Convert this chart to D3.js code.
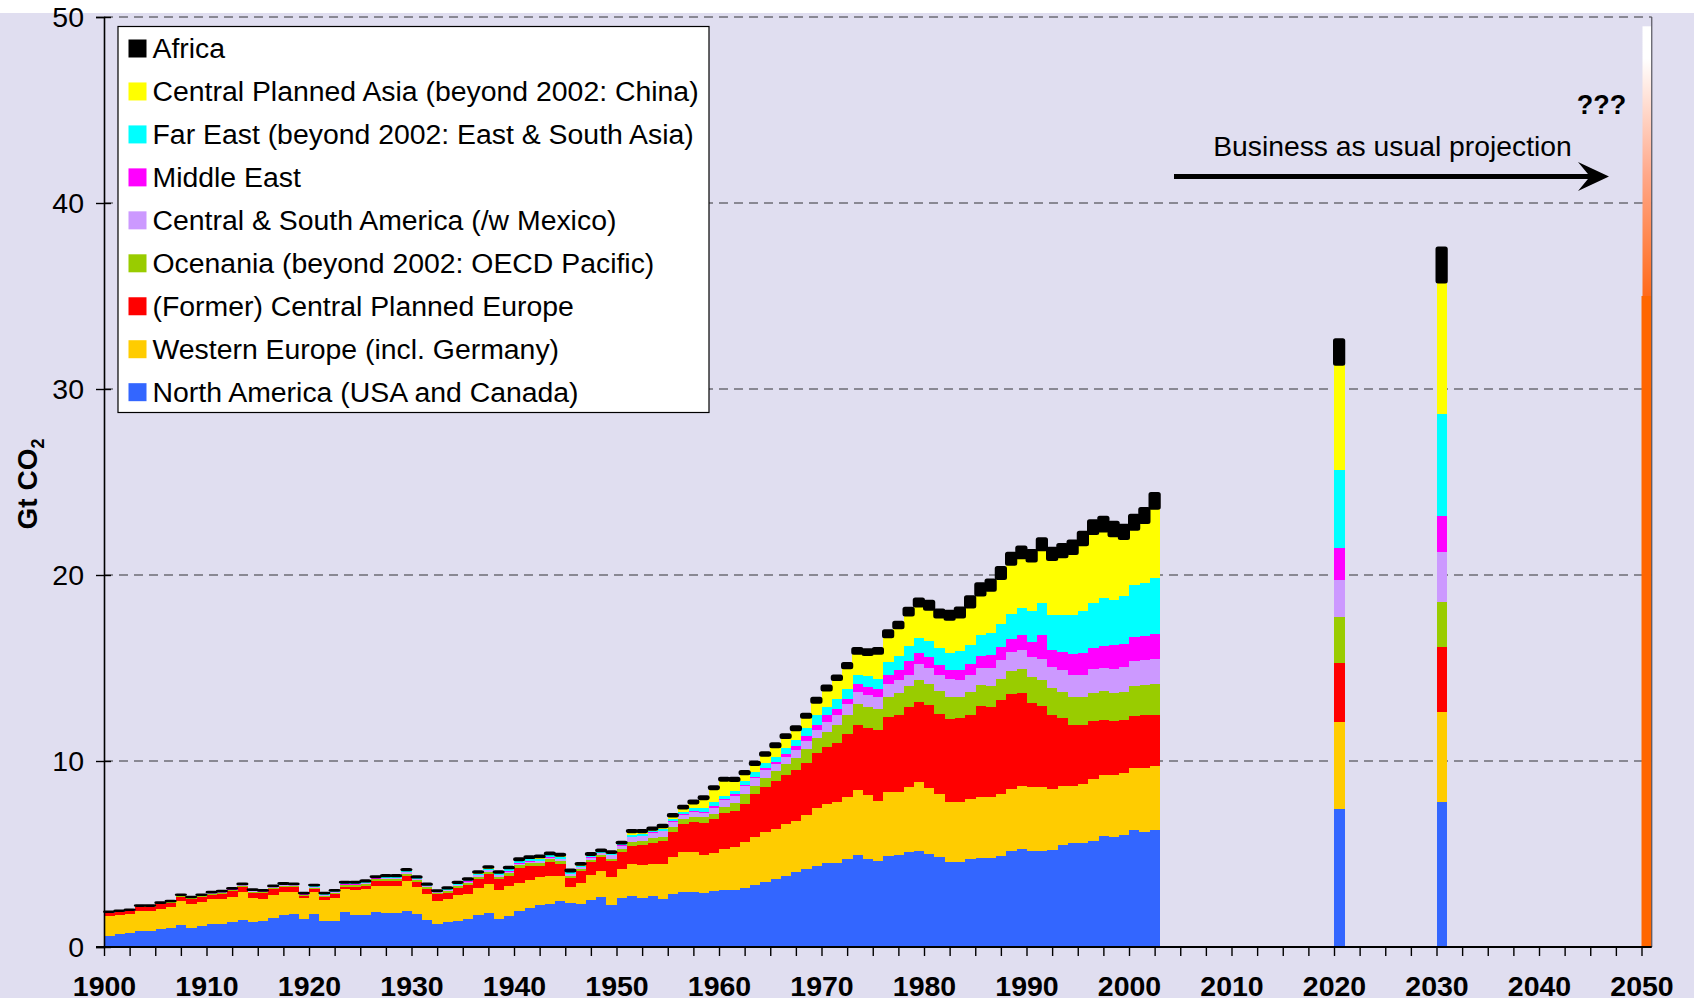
<!DOCTYPE html>
<html>
<head>
<meta charset="utf-8">
<script src="https://cdn.jsdelivr.net/npm/d3@7"></script>
<style>
  html, body { margin: 0; padding: 0; background: #ffffff; }
  svg { display: block; font-family: "Liberation Sans", Arial, sans-serif; }
</style>
</head>
<body>
<svg id="chart" width="1694" height="1003"></svg>
<script>
// ---------------- DATA ----------------
const years = [
  1900,1901,1902,1903,1904,1905,1906,1907,1908,1909,
  1910,1911,1912,1913,1914,1915,1916,1917,1918,1919,
  1920,1921,1922,1923,1924,1925,1926,1927,1928,1929,
  1930,1931,1932,1933,1934,1935,1936,1937,1938,1939,
  1940,1941,1942,1943,1944,1945,1946,1947,1948,1949,
  1950,1951,1952,1953,1954,1955,1956,1957,1958,1959,
  1960,1961,1962,1963,1964,1965,1966,1967,1968,1969,
  1970,1971,1972,1973,1974,1975,1976,1977,1978,1979,
  1980,1981,1982,1983,1984,1985,1986,1987,1988,1989,
  1990,1991,1992,1993,1994,1995,1996,1997,1998,1999,
  2000,2001,2002
];

// North America (USA and Canada)
const northAmerica = [
  0.58,0.70,0.74,0.85,0.85,0.95,1.01,1.17,1.01,1.12,
  1.23,1.23,1.33,1.44,1.33,1.39,1.55,1.71,1.77,1.50,
  1.77,1.39,1.39,1.87,1.71,1.71,1.87,1.82,1.82,1.93,
  1.77,1.44,1.23,1.33,1.39,1.50,1.71,1.82,1.50,1.66,
  1.93,2.09,2.25,2.31,2.47,2.36,2.31,2.52,2.68,2.25,
  2.63,2.74,2.63,2.74,2.58,2.85,2.95,2.95,2.90,3.01,
  3.06,3.06,3.17,3.33,3.50,3.66,3.82,4.03,4.19,4.35,
  4.51,4.51,4.73,4.95,4.73,4.62,4.89,4.95,5.11,5.16,
  5.00,4.84,4.57,4.59,4.74,4.79,4.76,4.90,5.17,5.28,
  5.17,5.17,5.23,5.50,5.57,5.60,5.71,5.98,5.93,6.04,
  6.31,6.20,6.31
];
// Western Europe (incl. Germany)
const westernEurope = [
  1.08,1.01,1.03,1.08,1.08,1.09,1.13,1.30,1.30,1.29,
  1.35,1.35,1.35,1.51,1.30,1.19,1.24,1.24,1.18,1.13,
  1.18,1.13,1.24,1.25,1.35,1.41,1.41,1.46,1.46,1.62,
  1.46,1.41,1.24,1.25,1.40,1.35,1.46,1.57,1.56,1.62,
  1.51,1.51,1.52,1.51,1.35,0.87,1.13,1.35,1.41,1.52,
  1.57,1.73,1.78,1.73,1.89,2.00,2.17,2.17,2.05,2.05,
  2.22,2.33,2.49,2.60,2.70,2.70,2.81,2.75,2.91,3.13,
  3.19,3.30,3.35,3.50,3.45,3.24,3.46,3.40,3.51,3.72,
  3.56,3.40,3.24,3.23,3.24,3.30,3.29,3.30,3.30,3.35,
  3.41,3.41,3.24,3.13,3.11,3.19,3.30,3.25,3.30,3.29,
  3.29,3.40,3.40
];
// (Former) Central Planned Europe
const centralPlannedEurope = [
  0.16,0.16,0.16,0.22,0.22,0.27,0.22,0.22,0.27,0.27,
  0.23,0.27,0.32,0.27,0.27,0.32,0.32,0.27,0.27,0.10,
  0.16,0.16,0.22,0.10,0.16,0.16,0.27,0.27,0.27,0.29,
  0.27,0.27,0.38,0.32,0.38,0.48,0.49,0.54,0.60,0.54,
  0.81,0.76,0.59,0.76,0.65,0.48,0.65,0.71,0.76,0.86,
  0.92,0.97,1.09,1.13,1.24,1.35,1.51,1.62,1.73,1.84,
  1.95,1.94,2.05,2.27,2.38,2.54,2.60,2.75,2.81,2.97,
  3.07,3.18,3.39,3.51,3.62,3.83,3.99,4.10,4.26,4.27,
  4.43,4.31,4.47,4.47,4.52,4.85,4.83,5.06,5.12,5.01,
  4.52,4.36,3.98,3.66,3.25,3.17,3.12,2.95,2.90,2.85,
  2.80,2.85,2.79
];
// Ocenania (beyond 2002: OECD Pacific)
const oceania = [
  0.03,0.03,0.03,0.03,0.03,0.03,0.04,0.04,0.04,0.05,
  0.06,0.06,0.06,0.07,0.07,0.06,0.07,0.07,0.06,0.06,
  0.08,0.08,0.07,0.09,0.09,0.09,0.08,0.09,0.09,0.10,
  0.09,0.08,0.06,0.09,0.10,0.11,0.12,0.12,0.12,0.14,
  0.14,0.14,0.15,0.14,0.15,0.12,0.11,0.12,0.10,0.11,
  0.16,0.22,0.22,0.25,0.23,0.25,0.23,0.27,0.29,0.27,
  0.32,0.43,0.49,0.43,0.49,0.54,0.59,0.65,0.76,0.76,
  0.81,0.97,0.98,1.08,1.08,1.08,1.08,1.18,1.13,1.18,
  1.13,1.19,1.14,1.15,1.19,1.15,1.16,1.15,1.24,1.31,
  1.42,1.42,1.46,1.40,1.51,1.48,1.53,1.59,1.53,1.51,
  1.64,1.64,1.64
];
// Central & South America (/w Mexico)
const centralSouthAmerica = [
  0.01,0.01,0.01,0.01,0.01,0.01,0.02,0.02,0.02,0.02,
  0.02,0.03,0.03,0.03,0.03,0.02,0.03,0.03,0.03,0.03,
  0.04,0.04,0.03,0.05,0.05,0.06,0.05,0.06,0.07,0.07,
  0.06,0.06,0.04,0.06,0.06,0.07,0.08,0.08,0.08,0.09,
  0.09,0.09,0.10,0.09,0.10,0.09,0.09,0.10,0.08,0.18,
  0.16,0.23,0.23,0.27,0.27,0.27,0.25,0.25,0.23,0.32,
  0.36,0.38,0.43,0.43,0.43,0.38,0.40,0.43,0.43,0.48,
  0.54,0.54,0.59,0.65,0.65,0.65,0.70,0.70,0.59,0.87,
  0.86,0.86,0.97,0.92,0.94,0.92,0.97,1.00,1.03,1.03,
  1.07,1.14,1.15,1.21,1.19,1.19,1.29,1.24,1.29,1.37,
  1.35,1.35,1.36
];
// Middle East
const middleEast = [
  0.00,0.00,0.00,0.00,0.00,0.00,0.01,0.01,0.00,0.01,
  0.01,0.01,0.01,0.01,0.01,0.01,0.01,0.02,0.02,0.02,
  0.02,0.02,0.02,0.02,0.02,0.01,0.01,0.02,0.01,0.02,
  0.02,0.01,0.01,0.02,0.02,0.02,0.02,0.02,0.03,0.03,
  0.03,0.03,0.03,0.03,0.03,0.03,0.03,0.03,0.03,0.03,
  0.03,0.04,0.04,0.04,0.05,0.05,0.05,0.06,0.07,0.08,
  0.07,0.07,0.08,0.10,0.10,0.12,0.15,0.18,0.27,0.22,
  0.33,0.32,0.32,0.43,0.43,0.43,0.48,0.54,0.76,0.59,
  0.60,0.54,0.48,0.54,0.60,0.65,0.70,0.73,0.72,0.81,
  0.82,1.29,0.92,0.97,1.14,1.19,1.14,1.19,1.30,1.25,
  1.29,1.30,1.35
];
// Far East (beyond 2002: East & South Asia)
const farEast = [
  0.01,0.02,0.01,0.01,0.01,0.01,0.02,0.02,0.02,0.02,
  0.02,0.03,0.02,0.03,0.03,0.02,0.03,0.03,0.03,0.03,
  0.04,0.04,0.03,0.05,0.05,0.05,0.04,0.05,0.05,0.07,
  0.05,0.05,0.03,0.05,0.06,0.06,0.07,0.07,0.07,0.09,
  0.10,0.10,0.11,0.09,0.10,0.07,0.06,0.07,0.05,0.06,
  0.05,0.10,0.09,0.08,0.09,0.10,0.12,0.14,0.18,0.20,
  0.15,0.20,0.22,0.25,0.28,0.30,0.33,0.36,0.41,0.55,
  0.43,0.49,0.49,0.48,0.59,0.54,0.71,0.76,0.81,0.81,
  0.86,0.92,0.92,1.03,1.02,1.13,1.19,1.25,1.35,1.41,
  1.64,1.73,1.86,2.00,2.10,2.27,2.43,2.54,2.43,2.54,
  2.76,2.81,2.97
];
// Central Planned Asia (beyond 2002: China)
const centralPlannedAsia = [
  0.01,0.01,0.01,0.01,0.01,0.01,0.01,0.01,0.01,0.01,
  0.01,0.01,0.01,0.01,0.02,0.01,0.01,0.02,0.01,0.01,
  0.02,0.02,0.02,0.03,0.03,0.03,0.02,0.03,0.03,0.03,
  0.02,0.03,0.01,0.03,0.03,0.03,0.04,0.04,0.03,0.06,
  0.06,0.06,0.07,0.05,0.06,0.04,0.04,0.05,0.04,0.05,
  0.05,0.14,0.09,0.06,0.09,0.14,0.17,0.26,0.50,0.71,
  0.81,0.52,0.36,0.37,0.40,0.50,0.53,0.50,0.54,0.67,
  0.91,1.04,1.13,1.16,1.15,1.37,1.34,1.51,1.65,1.71,
  1.69,1.66,1.80,1.78,2.00,2.11,2.25,2.39,2.62,2.70,
  2.68,2.81,2.97,3.08,3.26,3.51,3.69,3.60,3.41,3.09,
  2.99,3.24,3.74
];
// Africa
const africa = [
  0.03,0.02,0.03,0.03,0.03,0.03,0.03,0.03,0.03,0.03,
  0.04,0.04,0.04,0.04,0.04,0.04,0.04,0.05,0.04,0.04,
  0.04,0.04,0.04,0.05,0.05,0.07,0.05,0.07,0.07,0.07,
  0.06,0.06,0.05,0.06,0.07,0.07,0.08,0.08,0.08,0.09,
  0.10,0.10,0.10,0.10,0.10,0.10,0.10,0.10,0.09,0.09,
  0.09,0.12,0.12,0.12,0.13,0.14,0.14,0.15,0.15,0.16,
  0.16,0.17,0.17,0.18,0.19,0.21,0.21,0.22,0.22,0.27,
  0.27,0.25,0.29,0.32,0.31,0.32,0.38,0.34,0.42,0.43,
  0.49,0.43,0.49,0.54,0.61,0.65,0.61,0.65,0.65,0.63,
  0.61,0.65,0.65,0.72,0.72,0.72,0.74,0.79,0.77,0.76,
  0.81,0.81,0.85
];

// Business-as-usual projection bars
const projectionYears = [2020, 2030];
const projNorthAmerica         = [7.43, 7.81];
const projWesternEurope        = [4.69, 4.83];
const projCentralPlannedEurope = [3.17, 3.50];
const projOceania              = [2.47, 2.42];
const projCentralSouthAmerica  = [1.99, 2.69];
const projMiddleEast           = [1.71, 1.94];
const projFarEast              = [4.21, 5.49];
const projCentralPlannedAsia   = [5.64, 7.05];
const projAfrica               = [1.36, 1.88];

// 2050: solid part and the uncertain "???" range above it
const year2050 = 2050;
const value2050 = 35.0;
const upper2050 = 49.5;

const seriesKeys = ["na","we","cpe","oce","csa","me","fe","cpa","af"];
const seriesNames = {
  af:  "Africa",
  cpa: "Central Planned Asia (beyond 2002: China)",
  fe:  "Far East (beyond 2002: East & South Asia)",
  me:  "Middle East",
  csa: "Central & South America (/w Mexico)",
  oce: "Ocenania (beyond 2002: OECD Pacific)",
  cpe: "(Former) Central Planned Europe",
  we:  "Western Europe (incl. Germany)",
  na:  "North America (USA and Canada)"
};
const legendOrder = ["af","cpa","fe","me","csa","oce","cpe","we","na"];
const seriesColors = {
  na: "#3366FF", we: "#FFCC00", cpe: "#FF0000", oce: "#99CC00",
  csa: "#CC99FF", me: "#FF00FF", fe: "#00FFFF", cpa: "#FFFF00", af: "#000000"
};
const yTickValues = [0, 10, 20, 30, 40, 50];
const xTickLabels = ["1900","1910","1920","1930","1940","1950","1960","1970","1980","1990","2000","2010","2020","2030","2040","2050"];

// ---------------- BUILD TABLES ----------------
const histRows = years.map((yr, i) => ({
  year: yr, na: northAmerica[i], we: westernEurope[i], cpe: centralPlannedEurope[i],
  oce: oceania[i], csa: centralSouthAmerica[i], me: middleEast[i], fe: farEast[i],
  cpa: centralPlannedAsia[i], af: africa[i]
}));
const projRows = projectionYears.map((yr, i) => ({
  year: yr, na: projNorthAmerica[i], we: projWesternEurope[i], cpe: projCentralPlannedEurope[i],
  oce: projOceania[i], csa: projCentralSouthAmerica[i], me: projMiddleEast[i], fe: projFarEast[i],
  cpa: projCentralPlannedAsia[i], af: projAfrica[i]
}));
const allRows = histRows.concat(projRows);

// ---------------- SCALES ----------------
const svg = d3.select("#chart");
const x = d3.scaleLinear().domain([1900, 2051]).range([104, 1651.75]);
const y = d3.scaleLinear().domain([0, 50]).range([947, 17]);

// background
svg.append("rect").attr("x", 0).attr("y", 13).attr("width", 1694).attr("height", 985).attr("fill", "#E0DEF0");

// gridlines
svg.append("g").selectAll("line").data(yTickValues.filter(v => v > 0)).join("line")
  .attr("x1", x(1900)).attr("x2", x(2051))
  .attr("y1", d => y(d)).attr("y2", d => y(d))
  .attr("stroke", "#6c6c74").attr("stroke-width", 1.6).attr("stroke-dasharray", "9,6");

// stacked bars
const stack = d3.stack().keys(seriesKeys);
const stacked = stack(allRows);
const barsG = svg.append("g");
stacked.forEach(layer => {
  const key = layer.key;
  const g = barsG.append("g");
  g.selectAll("rect").data(layer).join("rect")
    .attr("x", d => x(d.data.year))
    .attr("width", d => x(d.data.year + 1) - x(d.data.year) + (key === "af" ? 0 : 0.3))
    .attr("y", d => y(d[1]))
    .attr("height", d => Math.max(0, y(d[0]) - y(d[1])))
    .attr("fill", seriesColors[key])
    .attr("shape-rendering", key === "af" ? null : "crispEdges")
    .attr("stroke", key === "af" ? "#000" : null)
    .attr("stroke-width", key === "af" ? 2 : null)
    .attr("stroke-linejoin", "round")
    .attr("rx", key === "af" ? 1.5 : null);
});

// 2050 bar with gradient
const defs = svg.append("defs");
const grad = defs.append("linearGradient").attr("id", "g2050")
  .attr("x1", 0).attr("y1", 0).attr("x2", 0).attr("y2", 1);
grad.append("stop").attr("offset", "0%").attr("stop-color", "#FFFFFF");
grad.append("stop").attr("offset", "12%").attr("stop-color", "#FFFFFF");
grad.append("stop").attr("offset", "55%").attr("stop-color", "#FFA88A");
grad.append("stop").attr("offset", "100%").attr("stop-color", "#FF6A1A");

svg.append("rect")
  .attr("x", x(year2050) + 1).attr("width", x(year2050 + 1) - x(year2050) - 1)
  .attr("y", y(upper2050)).attr("height", y(value2050) - y(upper2050))
  .attr("fill", "url(#g2050)");
svg.append("rect")
  .attr("x", x(year2050)).attr("width", x(year2050 + 1) - x(year2050))
  .attr("y", y(value2050)).attr("height", y(0) - y(value2050))
  .attr("fill", "#FF6600");

// right border of plot
svg.append("line").attr("x1", x(2051)).attr("x2", x(2051)).attr("y1", y(50)).attr("y2", y(0))
  .attr("stroke", "#55555f").attr("stroke-width", 1.2);

// Y axis
const yAxis = d3.axisLeft(y).tickValues(yTickValues).tickSize(8).tickPadding(12).tickFormat(d3.format("d"));
const yg = svg.append("g").attr("transform", `translate(${x(1900)},0)`).call(yAxis);
yg.select(".domain").attr("stroke", "#000").attr("stroke-width", 1.6);
yg.selectAll(".tick line").attr("stroke", "#000").attr("stroke-width", 1.4).attr("x2", -8).attr("x1", 7);
yg.selectAll(".tick text").attr("font-size", 28.5).attr("fill", "#000")
  .attr("font-family", "'Liberation Sans', Arial, sans-serif");

// X axis (ticks every 2.5 years, labels at decades)
const xTickVals = d3.range(1900, 2050.01, 2.5);
const xAxis = d3.axisBottom(x).tickValues(xTickVals).tickSize(9).tickPadding(20)
  .tickFormat(d => (d % 10 === 0) ? xTickLabels[(d - 1900) / 10] : "");
const xg = svg.append("g").attr("transform", `translate(0,${y(0)})`).call(xAxis);
xg.select(".domain").remove();
xg.selectAll(".tick line").attr("stroke", "#000").attr("stroke-width", 1.4);
xg.selectAll(".tick text").attr("font-size", 28.5).attr("font-weight", "bold").attr("fill", "#000")
  .attr("font-family", "'Liberation Sans', Arial, sans-serif");
svg.append("line").attr("x1", x(1900) - 8).attr("x2", x(2051)).attr("y1", y(0)).attr("y2", y(0))
  .attr("stroke", "#000").attr("stroke-width", 2);

// Y axis title
const yt = svg.append("text")
  .attr("transform", `translate(37,${484}) rotate(-90)`)
  .attr("text-anchor", "middle")
  .attr("font-size", 28).attr("font-weight", "bold").attr("fill", "#000");
yt.append("tspan").text("Gt CO");
yt.append("tspan").attr("font-size", 18).attr("dy", 7).text("2");

// Legend
const legend = svg.append("g");
legend.append("rect").attr("x", 118).attr("y", 26.5).attr("width", 591).attr("height", 386)
  .attr("fill", "#fff").attr("stroke", "#000").attr("stroke-width", 1.2);
legendOrder.forEach((k, i) => {
  const cy = 48.5 + i * 42.96;
  legend.append("rect").attr("x", 128.5).attr("y", cy - 9).attr("width", 18).attr("height", 18)
    .attr("fill", seriesColors[k]);
  legend.append("text").attr("x", 152.5).attr("y", cy).attr("dy", "0.35em")
    .attr("font-size", 28.4).attr("fill", "#000").text(seriesNames[k]);
});

// Annotations
svg.append("text").attr("x", 1392.5).attr("y", 156).attr("text-anchor", "middle")
  .attr("font-size", 28.3).attr("fill", "#000").text("Business as usual projection");
svg.append("text").attr("x", 1601.5).attr("y", 113.5).attr("text-anchor", "middle")
  .attr("font-size", 27).attr("font-weight", "bold").attr("fill", "#000").text("???");
svg.append("line").attr("x1", 1174).attr("x2", 1592).attr("y1", 176.5).attr("y2", 176.5)
  .attr("stroke", "#000").attr("stroke-width", 5);
svg.append("path").attr("d", "M1609,176.5 L1578,162 L1590,176.5 L1578,191 Z").attr("fill", "#000");
</script>
</body>
</html>
